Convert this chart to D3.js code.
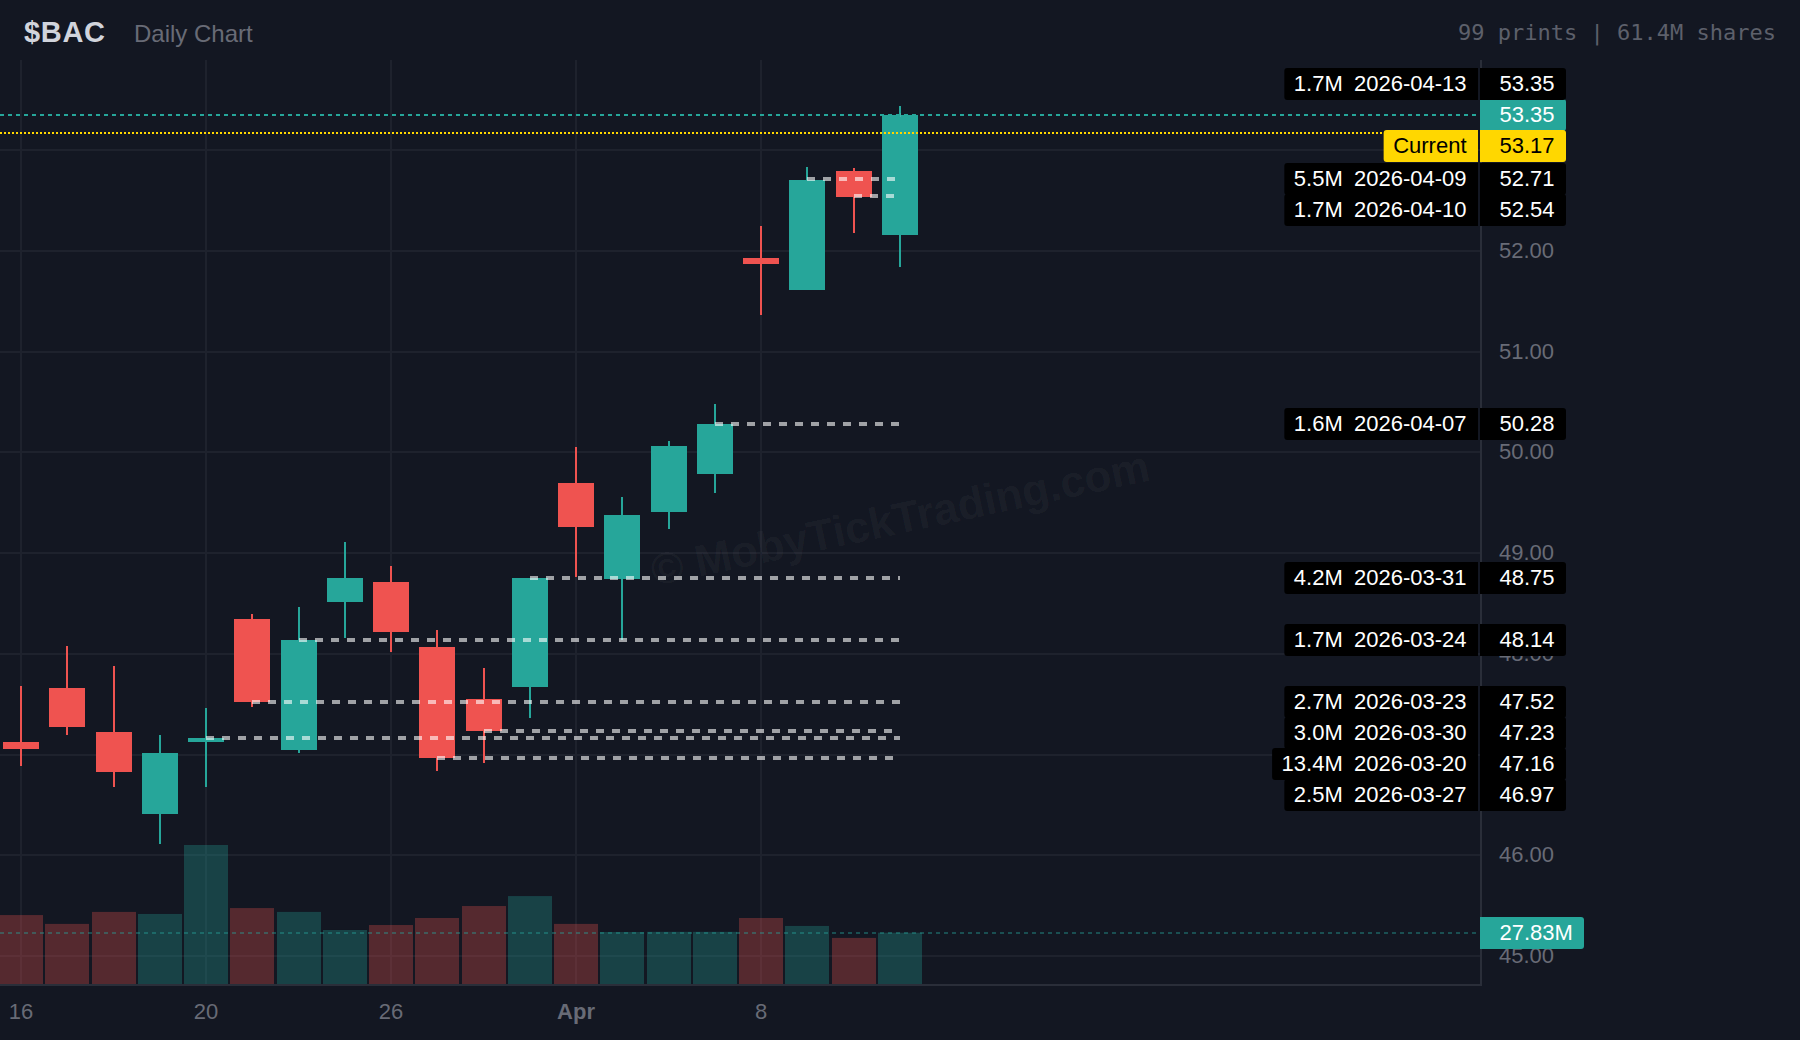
<!DOCTYPE html>
<html>
<head>
<meta charset="utf-8">
<title>$BAC Daily Chart</title>
<script src="https://cdn.jsdelivr.net/npm/d3@7"></script>
<style>
  html, body { margin: 0; padding: 0; background: #131722; }
  svg { display: block; }
  text { font-family: "Liberation Sans", sans-serif; }
</style>
</head>
<body>
<div id="chart"></div>
<script>
// candles, one entry per trading day
const dates = ["2026-03-16","2026-03-17","2026-03-18","2026-03-19","2026-03-20","2026-03-23","2026-03-24",
  "2026-03-25","2026-03-26","2026-03-27","2026-03-30","2026-03-31","2026-04-01","2026-04-02",
  "2026-04-06","2026-04-07","2026-04-08","2026-04-09","2026-04-10","2026-04-13"];
const opens  = [47.12,47.66,47.22,46.41,47.12,48.34,47.04,48.51,48.71,48.07,47.55,47.67,49.69,48.74,49.41,49.78,51.93,51.61,52.79,52.16];
const highs  = [47.68,48.08,47.88,47.19,47.46,48.39,48.46,49.11,48.87,48.24,47.86,48.75,50.05,49.56,50.11,50.48,52.25,52.83,52.82,53.44];
const lows   = [46.89,47.19,46.68,46.11,46.68,47.47,47.01,48.16,48.02,46.84,46.92,47.36,48.76,48.14,49.24,49.60,51.36,51.61,52.18,51.84];
const closes = [47.05,47.27,46.83,47.01,47.16,47.52,48.14,48.75,48.22,46.97,47.23,48.75,49.26,49.38,50.06,50.28,51.87,52.70,52.53,53.35];
const volumes = [37.4,32.6,39.1,38.0,75.4,41.2,39.1,29.3,32.0,35.8,42.3,47.7,32.6,28.2,28.3,28.3,35.8,31.5,25.0,27.83];

// big print levels
const levelPrices = [53.35,52.71,52.54,50.28,48.75,48.14,47.52,47.23,47.16,46.97];
const levelSizes  = ["1.7M","5.5M","1.7M","1.6M","4.2M","1.7M","2.7M","3.0M","13.4M","2.5M"];
const levelDates  = ["2026-04-13","2026-04-09","2026-04-10","2026-04-07","2026-03-31","2026-03-24","2026-03-23","2026-03-30","2026-03-20","2026-03-27"];
const lastPrice = 53.35;
const currentPrice = 53.17;

// axis ticks
const priceTicks = [45,46,47,48,49,50,51,52,53];
const timeTickDates = ["2026-03-16","2026-03-20","2026-03-26","2026-04-01","2026-04-08"];
const timeTickLabels = ["16","20","26","Apr","8"];

const width = 1800;
const height = 1040;
const plot = {left: 0, right: 1481, top: 60, bottom: 985};
const up = "#26a69a";
const down = "#ef5350";
const yellow = "#ffd700";
const gridColor = "#1e222d";
const borderColor = "#2a2e39";
const dimText = "#686b76";

const svg = d3.select("#chart")
    .append("svg")
    .attr("width", width)
    .attr("height", height)
    .attr("viewBox", [0, 0, width, height]);

svg.append("rect").attr("width", width).attr("height", height).attr("fill", "#131722");

// x works on the day index, both scales snap to whole pixels
const xScale = d3.scaleLinear().domain([0, dates.length - 1]).range([21, 900]).interpolate(d3.interpolateRound);
const yScale = d3.scaleLinear().domain([45, 53]).range([956, 150]).interpolate(d3.interpolateRound);
const volScale = d3.scaleLinear().domain([0, d3.max(volumes)]).range([984, 845]);
const dayIndex = (date) => dates.indexOf(date);
const timeTicks = timeTickDates.map(dayIndex);

// grid lines
const gridY = svg.append("g")
    .call(d3.axisLeft(yScale).tickValues(priceTicks).tickSize(-plot.right).tickFormat("").offset(0));
gridY.select(".domain").remove();
gridY.selectAll("line").attr("stroke", gridColor).attr("stroke-width", 2);

const gridX = svg.append("g")
    .attr("transform", `translate(0,${plot.bottom})`)
    .call(d3.axisBottom(xScale).tickValues(timeTicks).tickSize(plot.top - plot.bottom).tickFormat("").offset(0));
gridX.select(".domain").remove();
gridX.selectAll("line").attr("stroke", gridColor).attr("stroke-width", 2);

// watermark
svg.append("text")
    .attr("transform", "translate(900,518) rotate(-12)")
    .attr("text-anchor", "middle")
    .attr("dy", "0.35em")
    .attr("font-size", 44)
    .attr("font-weight", "bold")
    .attr("fill", "rgba(255,255,255,0.045)")
    .text("© MobyTickTrading.com");

// volume bars
svg.selectAll(".vol")
    .data(dates)
    .enter()
    .append("rect")
    .attr("class", "vol")
    .attr("x", (d, i) => xScale(i) - 22)
    .attr("width", 44)
    .attr("y", (d, i) => volScale(volumes[i]))
    .attr("height", (d, i) => volScale(0) - volScale(volumes[i]))
    .attr("fill", (d, i) => closes[i] < opens[i] ? down : up)
    .attr("fill-opacity", 0.3);

// volume level line
const volY = Math.round(volScale(volumes[volumes.length - 1]));
svg.append("line")
    .attr("x1", 0)
    .attr("x2", 1478)
    .attr("y1", volY)
    .attr("y2", volY)
    .attr("stroke", up)
    .attr("stroke-opacity", 0.4)
    .attr("stroke-width", 2)
    .attr("stroke-dasharray", "4 4");

// axis borders
svg.append("line").attr("x1", 0).attr("x2", plot.right + 1).attr("y1", plot.bottom).attr("y2", plot.bottom)
    .attr("stroke", borderColor).attr("stroke-width", 2);
svg.append("line").attr("x1", plot.right).attr("x2", plot.right).attr("y1", plot.top).attr("y2", plot.bottom)
    .attr("stroke", borderColor).attr("stroke-width", 2);

// wicks then bodies
svg.selectAll(".wick")
    .data(dates)
    .enter()
    .append("line")
    .attr("class", "wick")
    .attr("x1", (d, i) => xScale(i))
    .attr("x2", (d, i) => xScale(i))
    .attr("y1", (d, i) => yScale(highs[i]))
    .attr("y2", (d, i) => yScale(lows[i]))
    .attr("stroke", (d, i) => closes[i] < opens[i] ? down : up)
    .attr("stroke-width", 2);

svg.selectAll(".body")
    .data(dates)
    .enter()
    .append("rect")
    .attr("class", "body")
    .attr("x", (d, i) => xScale(i) - 18)
    .attr("width", 36)
    .attr("y", (d, i) => yScale(Math.max(opens[i], closes[i])))
    .attr("height", (d, i) => Math.abs(yScale(opens[i]) - yScale(closes[i])))
    .attr("fill", (d, i) => closes[i] < opens[i] ? down : up);

// print levels run from their day to the last candle
svg.selectAll(".level")
    .data(levelPrices)
    .enter()
    .append("line")
    .attr("class", "level")
    .attr("x1", (d, i) => xScale(dayIndex(levelDates[i])))
    .attr("x2", xScale(dates.length - 1))
    .attr("y1", (d) => yScale(d))
    .attr("y2", (d) => yScale(d))
    .attr("stroke", "rgba(255,255,255,0.6)")
    .attr("stroke-width", 4)
    .attr("stroke-dasharray", "8 8");

// last price and current price lines
svg.append("line")
    .attr("x1", 0).attr("x2", 1478)
    .attr("y1", yScale(lastPrice)).attr("y2", yScale(lastPrice))
    .attr("stroke", up).attr("stroke-width", 2).attr("stroke-dasharray", "4 4");
svg.append("line")
    .attr("x1", 0).attr("x2", 1478)
    .attr("y1", yScale(currentPrice)).attr("y2", yScale(currentPrice))
    .attr("stroke", yellow).attr("stroke-width", 2).attr("stroke-dasharray", "2 2");

// price axis
const priceAxis = svg.append("g")
    .attr("transform", `translate(${plot.right},0)`)
    .call(d3.axisRight(yScale).tickValues(priceTicks).tickSize(0).tickFormat(d3.format(".2f")).offset(0));
priceAxis.select(".domain").remove();
priceAxis.selectAll("text")
    .attr("x", 73)
    .attr("dy", 7)
    .attr("text-anchor", "end")
    .attr("font-size", 22)
    .attr("font-family", "Liberation Sans")
    .attr("fill", dimText);

// time axis
const timeAxis = svg.append("g")
    .attr("transform", `translate(0,${plot.bottom})`)
    .call(d3.axisBottom(xScale).tickValues(timeTicks).tickSize(0)
        .tickFormat((d) => timeTickLabels[timeTicks.indexOf(d)]).offset(0));
timeAxis.select(".domain").remove();
timeAxis.selectAll("text")
    .attr("y", 34)
    .attr("dy", 0)
    .attr("font-size", 22)
    .attr("font-family", "Liberation Sans")
    .attr("font-weight", (d) => dates[d] === "2026-04-01" ? "bold" : "normal")
    .attr("fill", dimText);

// label stack: the last price stays put, the rest get pushed away from it
let rows = levelPrices.map((p, i) => ({price: p, left: levelSizes[i] + "  " + levelDates[i], kind: "level"}));
rows.push({price: lastPrice, left: null, kind: "last"});
rows.push({price: currentPrice, left: "Current", kind: "current"});
rows = d3.sort(rows, (a, b) => d3.descending(a.price, b.price));

const rowStep = 31;
const rowHeight = 32;
const pin = rows.findIndex((r) => r.kind === "last");
rows[pin].y = yScale(rows[pin].price);
for (let i = pin + 1; i < rows.length; i++) {
    rows[i].y = Math.max(yScale(rows[i].price), rows[i - 1].y + rowStep);
}
for (let i = pin - 1; i >= 0; i--) {
    rows[i].y = Math.min(yScale(rows[i].price), rows[i + 1].y - rowStep);
}

// rounded only on the outer side
function tag(x0, x1, y0, y1, r, side) {
    if (side === "left") {
        return `M${x1},${y0}H${x0 + r}Q${x0},${y0} ${x0},${y0 + r}V${y1 - r}Q${x0},${y1} ${x0 + r},${y1}H${x1}Z`;
    }
    return `M${x0},${y0}H${x1 - r}Q${x1},${y0} ${x1},${y0 + r}V${y1 - r}Q${x1},${y1} ${x1 - r},${y1}H${x0}Z`;
}

const boxFill = {level: "#000000", last: up, current: yellow};
const textFill = {level: "#ffffff", last: "#ffffff", current: "#000000"};
const labels = svg.append("g").attr("font-size", 22);

// teal tag goes first so its neighbours sit on top of it
d3.sort(rows, (r) => r.kind === "last" ? 0 : 1).forEach((r) => {
    const g = labels.append("g");
    const y0 = r.y - rowHeight / 2;
    const y1 = r.y + rowHeight / 2;
    g.append("path")
        .attr("d", tag(1480, 1566, y0, y1, 3, "right"))
        .attr("fill", boxFill[r.kind]);
    g.append("text")
        .attr("x", 1554.5)
        .attr("y", r.y + 6.5)
        .attr("text-anchor", "end")
        .attr("fill", textFill[r.kind])
        .text(d3.format(".2f")(r.price));
    if (r.left) {
        const path = g.append("path").attr("fill", boxFill[r.kind]);
        const t = g.append("text")
            .attr("x", 1466.5)
            .attr("y", r.y + 6.5)
            .attr("text-anchor", "end")
            .attr("fill", textFill[r.kind])
            .style("white-space", "pre")
            .style("word-spacing", "-0.5px")
            .text(r.left);
        path.attr("d", tag(1466.5 - t.node().getComputedTextLength() - 9.5, 1478, y0, y1, 3, "left"));
    }
});

// volume tag
svg.append("path").attr("d", tag(1480, 1584, volY - 16, volY + 16, 3, "right")).attr("fill", up);
svg.append("text")
    .attr("x", 1499.5)
    .attr("y", volY + 7)
    .attr("font-size", 22)
    .attr("fill", "#ffffff")
    .text(d3.format(".2f")(volumes[volumes.length - 1]) + "M");

// header
svg.append("text")
    .attr("x", 24).attr("y", 42)
    .attr("font-size", 29)
    .attr("font-weight", "bold")
    .attr("letter-spacing", 0.7)
    .attr("fill", "#d1d4dc")
    .text("$BAC");
svg.append("text")
    .attr("x", 134).attr("y", 42)
    .attr("font-size", 24)
    .attr("fill", "#686b76")
    .text("Daily Chart");
svg.append("text")
    .attr("x", 1776).attr("y", 40)
    .attr("text-anchor", "end")
    .attr("font-size", 22)
    .attr("fill", "#5d606b")
    .style("font-family", "'DejaVu Sans Mono', monospace")
    .text("99 prints | 61.4M shares");
</script>
</body>
</html>
